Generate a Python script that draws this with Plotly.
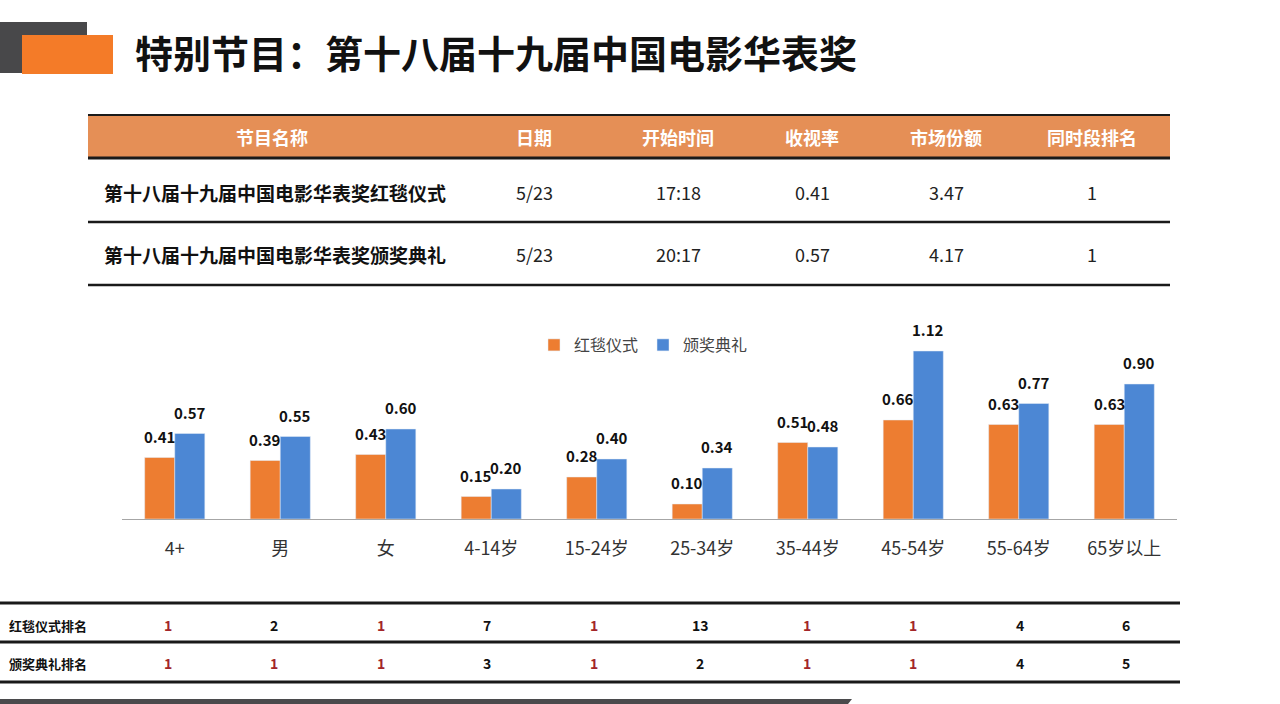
import plotly.graph_objects as go

# ---------------- data ----------------
title_text = "特别节目：第十八届十九届中国电影华表奖"

table_header = ["节目名称", "日期", "开始时间", "收视率", "市场份额", "同时段排名"]
table_row1 = ["第十八届十九届中国电影华表奖红毯仪式", "5/23", "17:18", "0.41", "3.47", "1"]
table_row2 = ["第十八届十九届中国电影华表奖颁奖典礼", "5/23", "20:17", "0.57", "4.17", "1"]

categories = ["4+", "男", "女", "4-14岁", "15-24岁", "25-34岁", "35-44岁", "45-54岁", "55-64岁", "65岁以上"]
red_carpet = [0.41, 0.39, 0.43, 0.15, 0.28, 0.10, 0.51, 0.66, 0.63, 0.63]
ceremony = [0.57, 0.55, 0.60, 0.20, 0.40, 0.34, 0.48, 1.12, 0.77, 0.90]
series_names = ["红毯仪式", "颁奖典礼"]

rank_labels = ["红毯仪式排名", "颁奖典礼排名"]
rank_red_carpet = [1, 2, 1, 7, 1, 13, 1, 1, 4, 6]
rank_ceremony = [1, 1, 1, 3, 1, 2, 1, 1, 4, 5]

# ---------------- style ----------------
W, H = 1280, 704
CJK = "Noto Sans CJK SC"
ORANGE = "#ED7D31"
BLUE = "#4C87D4"
HEADER = "#E58F56"
DARK = "#1a1a1a"
RED = "#A3262A"


def py(y):  # pixel y (from top) -> paper
    return 1 - y / H


def px(x):
    return x / W


fig = go.Figure()
fig.add_trace(go.Bar(x=categories, y=red_carpet, name=series_names[0], marker_color=ORANGE, cliponaxis=False))
fig.add_trace(go.Bar(x=categories, y=ceremony, name=series_names[1], marker_color=BLUE, cliponaxis=False))

shapes = []
annotations = []

# data labels (placed through data coordinates, shifted onto each bar of the group)
for vals, xs in [(red_carpet, -15), (ceremony, 15)]:
    for c, v in zip(categories, vals):
        annotations.append(dict(text=f"<b>{v:.2f}</b>", xref="x", yref="y", x=c, y=v, xshift=xs, yshift=9,
                                xanchor="center", yanchor="bottom", showarrow=False,
                                font=dict(family=CJK, size=15, color="#111")))

# title decoration
shapes.append(dict(type="rect", xref="paper", yref="paper", x0=px(0), x1=px(87), y0=py(73), y1=py(22),
                   fillcolor="#48484a", line_width=0, layer="below"))
shapes.append(dict(type="rect", xref="paper", yref="paper", x0=px(22), x1=px(113), y0=py(74), y1=py(35),
                   fillcolor="#F47B28", line_width=0, layer="below"))
annotations.append(dict(text=f"<b>{title_text}</b>", xref="paper", yref="paper", x=px(133), y=py(52),
                        xanchor="left", yanchor="middle", showarrow=False,
                        font=dict(family=CJK, size=38, color="#111")))

# top table
tx0, tx1 = 88, 1170
shapes.append(dict(type="rect", xref="paper", yref="paper", x0=px(tx0), x1=px(tx1), y0=py(158), y1=py(116),
                   fillcolor=HEADER, line_width=0, layer="below"))
for yy, w in [(115, 2), (158, 3), (222, 2.5), (285, 2.5)]:
    shapes.append(dict(type="line", xref="paper", yref="paper", x0=px(tx0), x1=px(tx1), y0=py(yy), y1=py(yy),
                       line=dict(color=DARK, width=w)))
col_x = [272, 534, 678, 812, 946, 1092]
for i, h in enumerate(table_header):
    annotations.append(dict(text=f"<b>{h}</b>", xref="paper", yref="paper", x=px(col_x[i]), y=py(137),
                            xanchor="center", yanchor="middle", showarrow=False,
                            font=dict(family=CJK, size=18, color="white")))
for row, yy in [(table_row1, 192), (table_row2, 254)]:
    for i, v in enumerate(row):
        if i == 0:
            annotations.append(dict(text=f"<b>{v}</b>", xref="paper", yref="paper", x=px(102), y=py(yy),
                                    xanchor="left", yanchor="middle", showarrow=False,
                                    font=dict(family=CJK, size=19, color="#111")))
        else:
            annotations.append(dict(text=v, xref="paper", yref="paper", x=px(col_x[i]), y=py(yy),
                                    xanchor="center", yanchor="middle", showarrow=False,
                                    font=dict(family=CJK, size=18, color="#222")))

# bottom ranking table
for yy in [603, 642, 682]:
    shapes.append(dict(type="line", xref="paper", yref="paper", x0=0, x1=px(1180), y0=py(yy), y1=py(yy),
                       line=dict(color=DARK, width=3)))
for label, ranks, yy in [(rank_labels[0], rank_red_carpet, 625), (rank_labels[1], rank_ceremony, 663)]:
    annotations.append(dict(text=f"<b>{label}</b>", xref="paper", yref="paper", x=px(7), y=py(yy),
                            xanchor="left", yanchor="middle", showarrow=False,
                            font=dict(family=CJK, size=13, color="#111")))
    for i, (c, r) in enumerate(zip(categories, ranks)):
        annotations.append(dict(text=f"<b>{r}</b>", xref="x", yref="paper", x=c, y=py(yy), xshift=-7 + i,
                                xanchor="center", yanchor="middle", showarrow=False,
                                font=dict(family=CJK, size=14, color=RED if r == 1 else "#111")))

# bottom gray band
shapes.append(dict(type="path", xref="paper", yref="paper",
                   path=f"M 0 {py(699)} L {px(852)} {py(699)} L {px(848)} {py(704)} L 0 {py(704)} Z",
                   fillcolor="#4a4a4c", line_width=0))

fig.update_layout(
    width=W, height=H,
    margin=dict(l=0, r=0, t=0, b=0),
    paper_bgcolor="white", plot_bgcolor="white",
    barmode="group", bargap=0.43, bargroupgap=0,
    shapes=shapes, annotations=annotations,
    showlegend=True,
    legend=dict(orientation="h", x=px(534), y=py(345), xanchor="left", yanchor="middle",
                font=dict(family=CJK, size=16, color="#444"), bgcolor="rgba(0,0,0,0)",
                itemwidth=30, tracegroupgap=0),
    xaxis=dict(domain=[px(122), px(1177)], showline=True, linecolor="#a6a6a6", linewidth=1,
               ticks="", tickfont=dict(family=CJK, size=18, color="#333"), ticklabelstandoff=13,
               showgrid=False, fixedrange=True),
    yaxis=dict(domain=[py(519), py(309)], range=[0, 1.4], visible=False, showgrid=False, fixedrange=True),
)

fig.write_html("out.html", config={"displayModeBar": False},
               post_script="document.body.style.margin='0';document.body.style.overflow='hidden';")
